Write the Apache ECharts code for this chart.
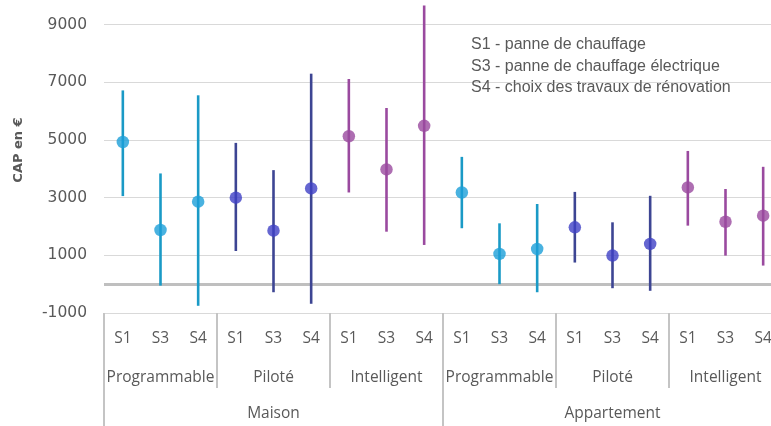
<!DOCTYPE html>
<html>
<head>
<meta charset="utf-8">
<script src="https://cdn.jsdelivr.net/npm/echarts@6/dist/echarts.min.js"></script>
<style>
html,body{margin:0;padding:0;background:#fff;overflow:hidden;width:771px;height:426px;}
#chart{width:782px;height:459px;margin-top:-33px;}
</style>
</head>
<body>
<div id="chart"></div>
<script>
// ---- Data ----
const scenarios = ['S1', 'S3', 'S4'];
const systems = ['Programmable', 'Piloté', 'Intelligent'];
const housing = ['Maison', 'Appartement'];
const scenarioDescriptions = [
  'S1 - panne de chauffage',
  'S3 - panne de chauffage électrique',
  'S4 - choix des travaux de rénovation'
];
const yAxisTitle = 'CAP en €';
// order: Maison (Programmable S1,S3,S4, Piloté S1,S3,S4, Intelligent S1,S3,S4), then Appartement
const capMean = [4930, 1880, 2860, 3000, 1855, 3320, 5130, 3980, 5490,
                 3180, 1050, 1220, 1970, 990, 1395, 3355, 2165, 2375];
const capLow  = [3055, -50, -750, 1150, -280, -680, 3180, 1820, 1360,
                 1940, 0, -280, 750, -140, -230, 2030, 990, 645];
const capHigh = [6720, 3840, 6550, 4900, 3955, 7300, 7115, 6110, 9665,
                 4415, 2110, 2780, 3200, 2145, 3065, 4620, 3300, 4070];

// ---- Derived categories ----
const level1 = [], level2 = [], level3 = housing.slice();
housing.forEach(h => systems.forEach(s => { level2.push(s); scenarios.forEach(sc => level1.push(sc)); }));

const dotColors = ['#1b9fd8', '#3e40c6', '#9a4a9f'];
const lineColors = ['#1a9ac6', '#3d4593', '#9a4a9f'];
const textColor = '#595959';

const barData = capMean.map((m, i) => ({
  value: [i, capLow[i], capHigh[i], Math.floor(i / 3) % 3]
}));
const dotData = capMean.map((m, i) => ({
  value: [i, m],
  itemStyle: { color: dotColors[Math.floor(i / 3) % 3] }
}));

const chart = echarts.init(document.getElementById('chart'), null, { renderer: 'canvas' });

const catFont = 'Open Sans';

chart.setOption({
  animation: false,
  backgroundColor: '#ffffff',
  title: {
    text: scenarioDescriptions.join('\n'),
    left: 471,
    top: 34 + 33,
    padding: 0,
    textStyle: {
      fontFamily: 'Liberation Sans',
      fontSize: 16,
      fontWeight: 'normal',
      color: textColor,
      lineHeight: 21.5
    }
  },
  grid: { left: 104, right: 0, top: 0, bottom: 113, containLabel: false, outerBoundsMode: 'none' },
  xAxis: [
    {
      type: 'category',
      data: level1,
      position: 'bottom',
      boundaryGap: true,
      axisLine: { show: true, onZero: false, lineStyle: { color: '#d9d9d9', width: 1 } },
      axisTick: { show: false },
      axisLabel: { interval: 0, margin: 18, color: textColor, fontFamily: catFont, fontSize: 15.5 },
      splitLine: { show: false }
    },
    {
      type: 'category',
      data: level2,
      position: 'bottom',
      boundaryGap: true,
      axisLine: { show: false, onZero: false },
      axisTick: { show: true, interval: 0, length: 75, lineStyle: { color: '#c4c4c4', width: 2 } },
      axisLabel: { interval: 0, margin: 57, color: textColor, fontFamily: catFont, fontSize: 15.5 },
      splitLine: { show: false }
    },
    {
      type: 'category',
      data: level3,
      position: 'bottom',
      boundaryGap: true,
      axisLine: { show: false, onZero: false },
      axisTick: { show: true, interval: 0, length: 116, lineStyle: { color: '#c4c4c4', width: 2 } },
      axisLabel: { interval: 0, margin: 93, color: textColor, fontFamily: catFont, fontSize: 15.5 },
      splitLine: { show: false }
    }
  ],
  yAxis: {
    type: 'value',
    min: -1000,
    max: 11000,
    interval: 2000,
    name: yAxisTitle,
    nameLocation: 'middle',
    nameRotate: 90,
    nameGap: 79,
    nameTextStyle: {
      fontFamily: 'DejaVu Sans', fontSize: 13, fontWeight: 'bold', color: textColor,
      padding: [0, 20, 0, 0]
    },
    axisLine: { show: false },
    axisTick: { show: false },
    axisLabel: {
      margin: 17, color: textColor, fontFamily: 'DejaVu Sans', fontSize: 15.5,
      formatter: function (v) { return String(v); }
    },
    splitLine: { show: true, lineStyle: { color: '#d9d9d9', width: 1 } }
  },
  series: [
    {
      type: 'custom',
      xAxisIndex: 0,
      z: 6,
      data: barData,
      renderItem: function (params, api) {
        const x = api.value(0);
        const lo = api.coord([x, api.value(1)]);
        const hi = api.coord([x, api.value(2)]);
        return {
          type: 'line',
          shape: { x1: lo[0], y1: lo[1], x2: hi[0], y2: hi[1] },
          style: { stroke: lineColors[api.value(3)], lineWidth: 2.6 }
        };
      },
      markLine: {
        z: 5,
        silent: true,
        symbol: 'none',
        label: { show: false },
        lineStyle: { color: '#bfbfbf', width: 3, type: 'solid' },
        data: [{ yAxis: 0 }]
      }
    },
    {
      type: 'scatter',
      xAxisIndex: 0,
      z: 7,
      symbol: 'circle',
      symbolSize: 12.5,
      data: dotData
    }
  ]
});
</script>
</body>
</html>
